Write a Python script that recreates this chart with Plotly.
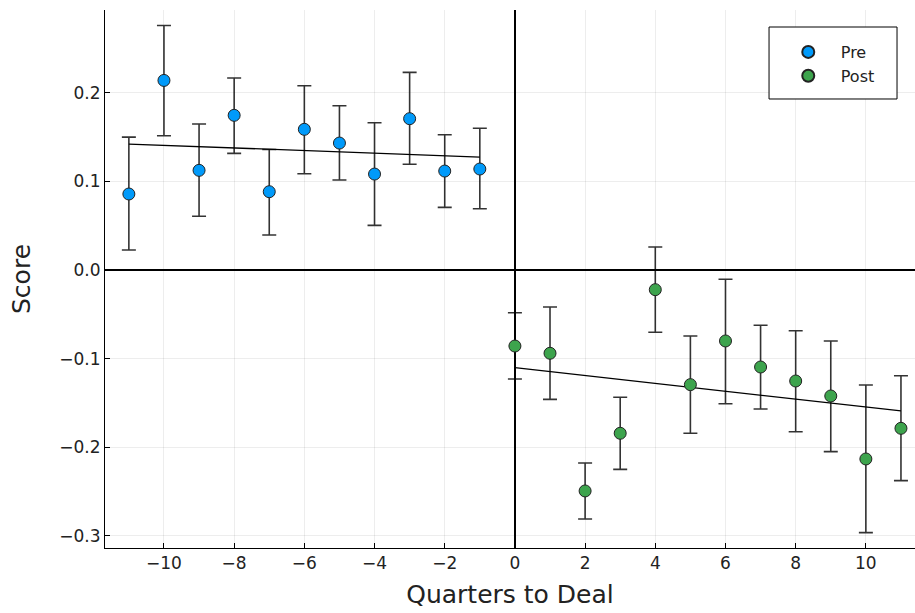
import plotly.graph_objects as go

# ---- data ----
pre_x = [-11, -10, -9, -8, -7, -6, -5, -4, -3, -2, -1]
pre_y = [0.0858, 0.214, 0.1125, 0.1746, 0.0884, 0.1588, 0.1433, 0.1083, 0.1708, 0.1117, 0.114]
pre_hi = [0.150, 0.276, 0.1648, 0.2167, 0.136, 0.208, 0.1855, 0.1663, 0.2231, 0.1527, 0.160]
pre_lo = [0.0226, 0.1516, 0.0606, 0.1317, 0.0395, 0.1087, 0.1016, 0.0504, 0.1193, 0.0707, 0.0692]

post_x = [0, 1, 2, 3, 4, 5, 6, 7, 8, 9, 10, 11]
post_y = [-0.0858, -0.094, -0.2494, -0.1843, -0.0222, -0.1294, -0.0801, -0.1095, -0.1253, -0.1422, -0.2133, -0.1787]
post_hi = [-0.0482, -0.0418, -0.2178, -0.1437, 0.026, -0.0745, -0.0105, -0.0624, -0.0685, -0.0801, -0.1298, -0.1193]
post_lo = [-0.123, -0.146, -0.281, -0.225, -0.0703, -0.1843, -0.1509, -0.1569, -0.1825, -0.205, -0.2965, -0.2378]

fit_pre_x = [-11, -1]
fit_pre_y = [0.1422, 0.1275]
fit_post_x = [0, 11]
fit_post_y = [-0.1102, -0.1591]

y_ticks = [-0.3, -0.2, -0.1, 0.0, 0.1, 0.2]
x_ticks = [-10, -8, -6, -4, -2, 0, 2, 4, 6, 8, 10]

FONT = "DejaVu Sans"
ERR_COLOR = "rgba(0,0,0,0.8)"

def err(y, hi, lo):
    return dict(type="data", symmetric=False,
                array=[h - v for v, h in zip(y, hi)],
                arrayminus=[v - l for v, l in zip(y, lo)],
                color=ERR_COLOR, thickness=1.6, width=7)

fig = go.Figure()
fig.add_trace(go.Scatter(x=fit_pre_x, y=fit_pre_y, mode="lines",
                         line=dict(color="black", width=1.3), showlegend=False, hoverinfo="skip"))
fig.add_trace(go.Scatter(x=fit_post_x, y=fit_post_y, mode="lines",
                         line=dict(color="black", width=1.3), showlegend=False, hoverinfo="skip"))
fig.add_trace(go.Scatter(x=pre_x, y=pre_y, mode="markers", name="Pre",
                         error_y=err(pre_y, pre_hi, pre_lo),
                         marker=dict(color="#009AFA", size=12, line=dict(color="#222", width=1))))
fig.add_trace(go.Scatter(x=post_x, y=post_y, mode="markers", name="Post",
                         error_y=err(post_y, post_hi, post_lo),
                         marker=dict(color="#3DA44D", size=12, line=dict(color="#222", width=1))))

axis_common = dict(showline=True, linecolor="black", linewidth=1, mirror=False,
                   ticks="inside", ticklen=5, tickcolor="black", automargin=False,
                   showgrid=True, gridcolor="rgba(0,0,0,0.07)", gridwidth=1,
                   zeroline=True, zerolinecolor="black", zerolinewidth=1.6,
                   tickfont=dict(family=FONT, size=17, color="#222"))

# legend frame (drawn as a shape, legend sits inside it)
fig.add_shape(type="rect", xref="paper", yref="paper",
              x0=0.8198, x1=0.9778, y0=0.8346, y1=0.9684,
              line=dict(color="black", width=1), fillcolor="white", layer="above")

fig.update_layout(
    width=915, height=613,
    margin=dict(l=105, r=0, t=10, b=65),
    paper_bgcolor="white", plot_bgcolor="white",
    font=dict(family=FONT, color="#222"),
    xaxis=dict(range=[-11.68, 11.4], tickvals=x_ticks,
               title=dict(text="Quarters to Deal", font=dict(family=FONT, size=25), standoff=13),
               **axis_common),
    yaxis=dict(range=[-0.3138, 0.2935], tickvals=y_ticks, tickformat=".1f",
               title=dict(text="Score", font=dict(family=FONT, size=25), standoff=21),
               **axis_common),
    legend=dict(x=0.8281, y=0.9535, xanchor="left", yanchor="top",
                borderwidth=0, bgcolor="rgba(0,0,0,0)",
                font=dict(family=FONT, size=16), itemsizing="constant",
                itemwidth=55),
    showlegend=True,
)

fig.write_html("out.html", config={"displayModeBar": False},
               post_script="document.body.style.margin='0px';document.body.style.overflow='hidden';")
